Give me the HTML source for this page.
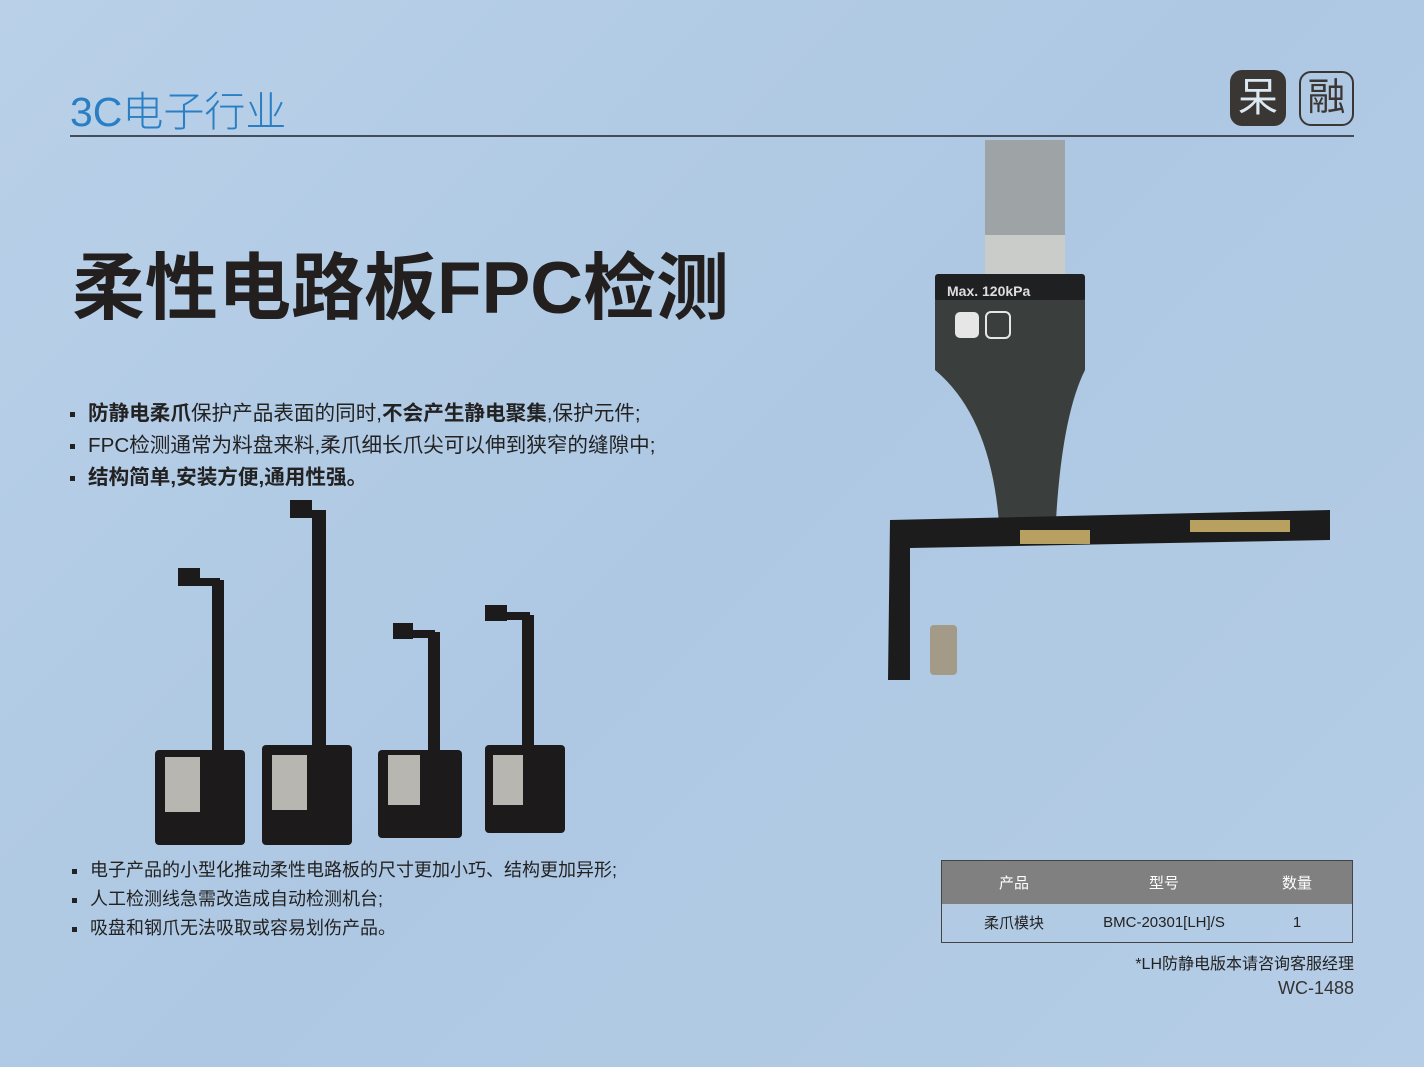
<!DOCTYPE html>
<html><head><meta charset="utf-8"><style>
body{margin:0;width:1424px;height:1067px;overflow:hidden;background:linear-gradient(135deg,#b9d0e8 0%,#aec8e3 50%,#b5cde6 100%);font-family:"Liberation Sans","Noto Sans CJK SC",sans-serif;position:relative;color:#222}
.a{position:absolute}
.b li{list-style:none;position:relative;padding-left:18px}
.b li:before{content:"";position:absolute;left:0;top:50%;width:5px;height:5px;background:#222;margin-top:-2px}
table{border-collapse:collapse}
</style></head><body>
<div class="a" style="left:70px;top:78px;font-size:41px;color:#2a7fc4;font-weight:300">3C电子行业</div>
<div class="a" style="left:70px;top:135px;width:1284px;height:2px;background:#444c58"></div>
<div class="a" style="left:1230px;top:70px;width:56px;height:56px;border-radius:12px;background:#3a3634;color:#dce8f2;font-size:40px;text-align:center;line-height:56px">呆</div>
<div class="a" style="left:1299px;top:71px;width:51px;height:51px;border-radius:12px;border:2px solid #3a3634;color:#3a3634;font-size:38px;text-align:center;line-height:51px">融</div>
<div class="a" style="left:72px;top:229px;font-size:73px;font-weight:bold;color:#231f1e">柔性电路板FPC检测</div>
<ul class="b a" style="left:70px;top:398px;margin:0;padding:0;font-size:20.6px;line-height:32px">
<li><b>防静电柔爪</b>保护产品表面的同时,<b>不会产生静电聚集</b>,保护元件;</li>
<li>FPC检测通常为料盘来料,柔爪细长爪尖可以伸到狭窄的缝隙中;</li>
<li><b>结构简单,安装方便,通用性强。</b></li></ul>
<ul class="b a" style="left:72px;top:856px;margin:0;padding:0;font-size:18px;line-height:29px">
<li>电子产品的小型化推动柔性电路板的尺寸更加小巧、结构更加异形;</li>
<li>人工检测线急需改造成自动检测机台;</li>
<li>吸盘和钢爪无法吸取或容易划伤产品。</li></ul>
<svg class="a" style="left:0;top:0" width="1424" height="1067">
<g fill="#1c1a1a">
<rect x="178" y="568" width="22" height="18"/><rect x="212" y="580" width="12" height="180"/><rect x="190" y="578" width="30" height="8"/>
<rect x="155" y="750" width="90" height="95" rx="4"/>
<rect x="290" y="500" width="22" height="18"/><rect x="312" y="510" width="14" height="250"/><rect x="300" y="510" width="20" height="8"/>
<rect x="262" y="745" width="90" height="100" rx="4"/>
<rect x="393" y="623" width="20" height="16"/><rect x="428" y="632" width="12" height="130"/><rect x="405" y="630" width="30" height="8"/>
<rect x="378" y="750" width="84" height="88" rx="4"/>
<rect x="485" y="605" width="22" height="16"/><rect x="522" y="615" width="12" height="130"/><rect x="495" y="612" width="35" height="8"/>
<rect x="485" y="745" width="80" height="88" rx="4"/>
</g>
<g fill="#b8b6b0"><rect x="165" y="757" width="35" height="55"/><rect x="272" y="755" width="35" height="55"/><rect x="388" y="755" width="32" height="50"/><rect x="493" y="755" width="30" height="50"/></g>
<rect x="985" y="140" width="80" height="140" fill="#9ea3a6"/>
<rect x="985" y="235" width="80" height="40" fill="#c9ccc9"/>
<rect x="935" y="274" width="150" height="28" fill="#1e2022" rx="3"/>
<path d="M935 300 H1085 V370 Q1060 420 1055 540 H1000 Q995 420 935 370Z" fill="#3a3f3d"/>
<text x="947" y="296" font-size="14" fill="#ddd" font-weight="bold" font-family="Liberation Sans">Max. 120kPa</text>
<rect x="955" y="312" width="24" height="26" rx="5" fill="#e6e6e6"/><rect x="986" y="312" width="24" height="26" rx="5" fill="none" stroke="#e6e6e6" stroke-width="2"/>
<path d="M890 520 L1330 510 L1330 540 L910 548 L910 680 L888 680Z" fill="#1d1c1c"/>
<rect x="930" y="625" width="27" height="50" rx="4" fill="#a49a88"/>
<g fill="#b8a060"><rect x="1020" y="530" width="70" height="14"/><rect x="1190" y="520" width="100" height="12"/></g>
</svg>
<table class="a" style="left:941px;top:860px;width:412px;border:1px solid #444;font-size:15px;text-align:center">
<tr style="background:#808080;color:#fff;height:43px"><td style="width:142px">产品</td><td style="width:154px">型号</td><td>数量</td></tr>
<tr style="height:39px;color:#222"><td>柔爪模块</td><td>BMC-20301[LH]/S</td><td>1</td></tr></table>
<div class="a" style="right:70px;top:950px;font-size:16px">*LH防静电版本请咨询客服经理</div>
<div class="a" style="right:70px;top:978px;font-size:18px;color:#333">WC-1488</div>
</body></html>
